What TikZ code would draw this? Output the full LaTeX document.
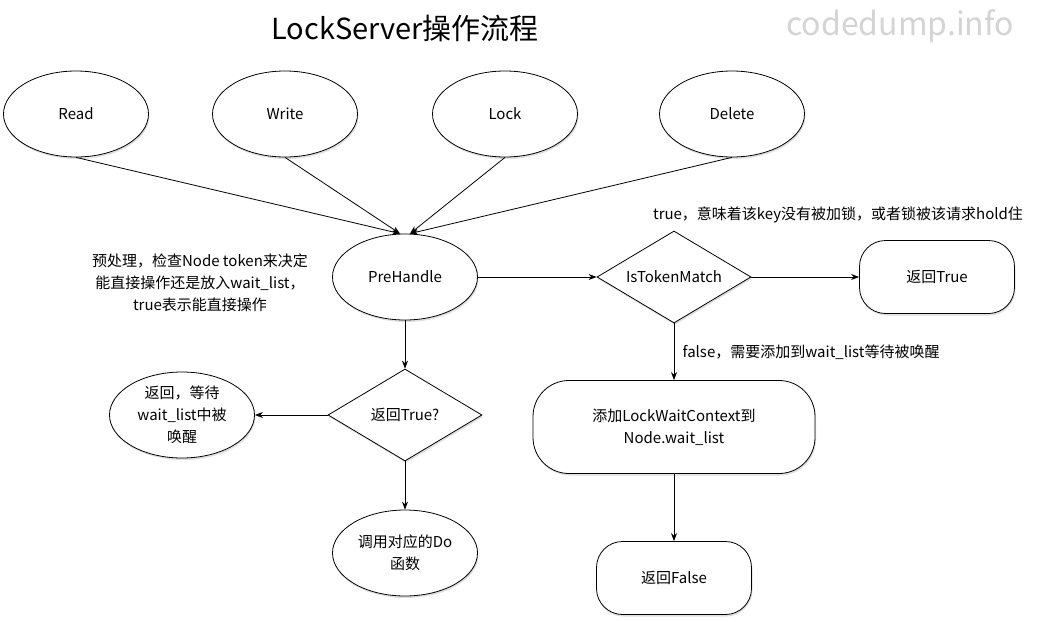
\documentclass[tikz,border=0pt]{standalone}
\usepackage{fontspec}
\setmainfont{Noto Sans CJK SC}
\usetikzlibrary{arrows.meta,shapes.geometric,shadows}
\usepackage{xcolor}
\definecolor{markgray}{RGB}{212,212,212}

\begin{document}
\begin{tikzpicture}[->,>={Stealth[length=8pt,width=6pt]},x=1pt,y=-1pt,line width=0.8pt,
    font=\fontsize{15}{22}\selectfont]
  \tikzstyle{boxshadow}=[drop shadow={shadow xshift=1pt,shadow yshift=-2pt,opacity=0.25}]
  \tikzstyle{opnode}=[ellipse,draw,fill=white,boxshadow,inner sep=0pt,align=center,
    minimum width=145pt,minimum height=86pt]
  \tikzstyle{checknode}=[diamond,draw,fill=white,boxshadow,inner sep=0pt,shape aspect=1.7,
    minimum width=154pt,minimum height=92pt]
  \tikzstyle{resultnode}=[rectangle,draw,fill=white,boxshadow,rounded corners=26pt,
    align=center,minimum width=155pt,minimum height=73pt]

  \useasboundingbox (0,0) rectangle (1038,621);

  \node (title)     at (405,28)  {\fontsize{29}{34}\selectfont LockServer操作流程};
  \node[text=markgray] (watermark) at (900,26) {\fontsize{32}{36}\selectfont codedump.info};

  \node[opnode]     (Read)       at (76,114)  {Read};
  \node[opnode]     (Write)      at (285,114) {Write};
  \node[opnode]     (Lock)       at (505,114) {Lock};
  \node[opnode]     (Delete)     at (732,114) {Delete};
  \node[opnode]     (PreHandle)  at (405,277) {PreHandle};
  \node[checknode]  (TokenMatch) at (674,277) {IsTokenMatch};
  \node[resultnode] (RetTrue)    at (937,277) {返回True};
  \node[checknode]  (AskTrue)    at (405,415) {返回True?};
  \node[opnode]     (Wait)       at (182,415) {返回，等待\\wait\_list中被\\唤醒};
  \node[opnode]     (CallDo)     at (405,553) {调用对应的Do\\函数};
  \node[resultnode, rounded corners=36pt, minimum width=282pt, minimum height=93pt]
                    (AddWait)    at (674,427) {添加LockWaitContext到\\Node.wait\_list};
  \node[resultnode] (RetFalse)   at (674,578) {返回False};

  \node[align=center] (note)      at (200,283) {预处理，检查Node token来决定\\能直接操作还是放入wait\_list，\\true表示能直接操作};
  \node               (truelabel) at (838,215) {true，意味着该key没有被加锁，或者锁被该请求hold住};

  \path (Read.south)      edge ([xshift=-5pt]PreHandle.north)
        (Write.south)     edge ([xshift=-5pt]PreHandle.north)
        (Lock.south)      edge ([xshift=5pt]PreHandle.north)
        (Delete.south)    edge ([xshift=5pt]PreHandle.north)
        (PreHandle.east)  edge (TokenMatch.west)
        (TokenMatch.east) edge (RetTrue.west)
        (TokenMatch.south) edge node[right,xshift=5pt] {false，需要添加到wait\_list等待被唤醒} (AddWait.north)
        (AddWait.south)   edge (RetFalse.north)
        (PreHandle.south) edge (AskTrue.north)
        (AskTrue.west)    edge (Wait.east)
        (AskTrue.south)   edge (CallDo.north);
\end{tikzpicture}
\end{document}
